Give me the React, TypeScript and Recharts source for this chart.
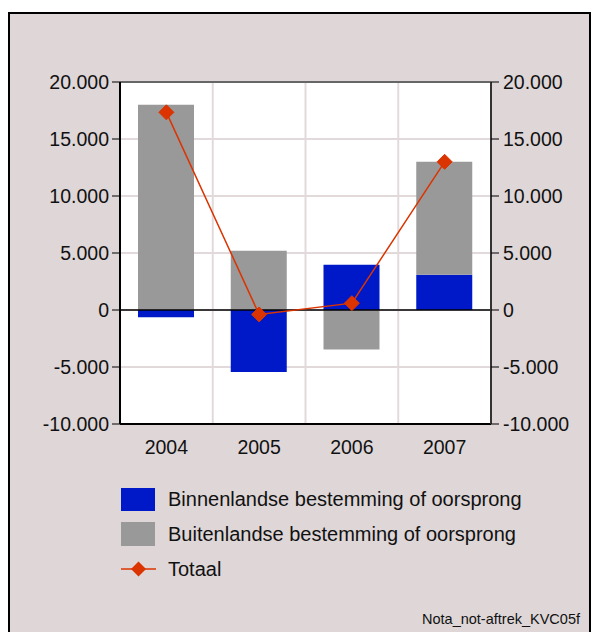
import React from 'react';
import { ComposedChart, Bar, Line, XAxis, YAxis, CartesianGrid, ReferenceLine } from 'recharts';

const years = ['2004', '2005', '2006', '2007'];
const binnenlands = [-630, -5440, 3980, 3100];
const buitenlands = [18000, 5200, -3460, 9900];
const totaal = [17340, -390, 600, 13000];
const yTicks = [-10000, -5000, 0, 5000, 10000, 15000, 20000];

const BLUE = '#0019c8';
const GRAY = '#999999';
const RED = '#db3400';
const BG = '#ded6d7';
const FONT = '"Liberation Sans", Arial, sans-serif';

const data = years.map((y, i) => ({
  year: y,
  bin: binnenlands[i],
  buiten: buitenlands[i],
  tot: totaal[i],
}));

const fmt = (v: number) => {
  const s = Math.abs(v).toString().replace(/\B(?=(\d{3})+(?!\d))/g, '.');
  return (v < 0 ? '-' : '') + s;
};

const Diamond = (props: any) => {
  const { cx, cy } = props;
  if (cx == null || cy == null) return null;
  const r = 7.5;
  return (
    <polygon
      points={`${cx},${cy - r} ${cx + r},${cy} ${cx},${cy + r} ${cx - r},${cy}`}
      fill={RED}
      stroke={RED}
      strokeWidth={1}
    />
  );
};

export default function App() {
  const tickStyle = { fontSize: 19.5, fill: '#111', fontFamily: FONT };
  return (
    <div
      style={{
        position: 'absolute',
        left: 8,
        top: 12,
        width: 583,
        height: 640,
        boxSizing: 'border-box',
        border: '2px solid #000',
        background: BG,
        fontFamily: FONT,
      }}
    >
      <div style={{ position: 'absolute', left: 0, top: 0 }}>
        <ComposedChart
          width={579}
          height={460}
          data={data}
          stackOffset="sign"
          margin={{ top: 68, right: 0, bottom: 10, left: 0 }}
        >
          <CartesianGrid
            yAxisId="left"
            fill="#ffffff"
            stroke="#e2dada"
            strokeWidth={2}
            verticalCoordinatesGenerator={(p: any) => {
              const o = p.offset;
              return [1, 2, 3].map((i) => o.left + (o.width * i) / 4);
            }}
          />
          <XAxis
            dataKey="year"
            tickLine={false}
            axisLine={{ stroke: '#000', strokeWidth: 2 }}
            tick={tickStyle}
            tickMargin={10}
            height={40}
          />
          <YAxis
            yAxisId="left"
            domain={[-10000, 20000]}
            ticks={yTicks}
            tickFormatter={fmt}
            width={110}
            tickSize={8}
            tickMargin={3}
            tickLine={{ stroke: '#000' }}
            axisLine={{ stroke: '#000', strokeWidth: 2 }}
            tick={tickStyle}
            allowDataOverflow
          />
          <YAxis
            yAxisId="right"
            orientation="right"
            domain={[-10000, 20000]}
            ticks={yTicks}
            tickFormatter={fmt}
            width={98}
            tickSize={8}
            tickMargin={4}
            tickLine={{ stroke: '#000' }}
            axisLine={{ stroke: '#333', strokeWidth: 2 }}
            tick={{ ...tickStyle, textAnchor: 'start' }}
            allowDataOverflow
          />
          <Bar yAxisId="left" dataKey="bin" stackId="a" fill={BLUE} barSize={56} isAnimationActive={false} />
          <Bar yAxisId="left" dataKey="buiten" stackId="a" fill={GRAY} barSize={56} isAnimationActive={false} />
          <ReferenceLine yAxisId="left" y={0} stroke="#000" strokeWidth={1.5} />
          <ReferenceLine yAxisId="left" y={20000} stroke="#666" strokeWidth={2} />
          <Line
            yAxisId="left"
            dataKey="tot"
            stroke={RED}
            strokeWidth={1.5}
            dot={<Diamond />}
            activeDot={false}
            isAnimationActive={false}
          />
        </ComposedChart>
      </div>

      {/* Legend */}
      <div style={{ position: 'absolute', left: 111, top: 474, width: 34, height: 23, background: BLUE }} />
      <div style={{ position: 'absolute', left: 158, top: 474, height: 23, lineHeight: '23px', fontSize: 20, color: '#111', whiteSpace: 'nowrap' }}>
        Binnenlandse bestemming of oorsprong
      </div>
      <div style={{ position: 'absolute', left: 111, top: 508, width: 34, height: 24, background: GRAY }} />
      <div style={{ position: 'absolute', left: 158, top: 508, height: 24, lineHeight: '24px', fontSize: 20, color: '#111', whiteSpace: 'nowrap' }}>
        Buitenlandse bestemming of oorsprong
      </div>
      <svg style={{ position: 'absolute', left: 109, top: 545 }} width={40} height={20}>
        <line x1={2} y1={10} x2={37} y2={10} stroke={RED} strokeWidth={1.5} />
        <polygon points="19.5,2.5 27,10 19.5,17.5 12,10" fill={RED} />
      </svg>
      <div style={{ position: 'absolute', left: 158, top: 543, height: 24, lineHeight: '24px', fontSize: 20, color: '#111', whiteSpace: 'nowrap' }}>
        Totaal
      </div>
      <div style={{ position: 'absolute', right: 9, top: 597, fontSize: 14.5, color: '#111', whiteSpace: 'nowrap' }}>
        Nota_not-aftrek_KVC05f
      </div>
    </div>
  );
}
